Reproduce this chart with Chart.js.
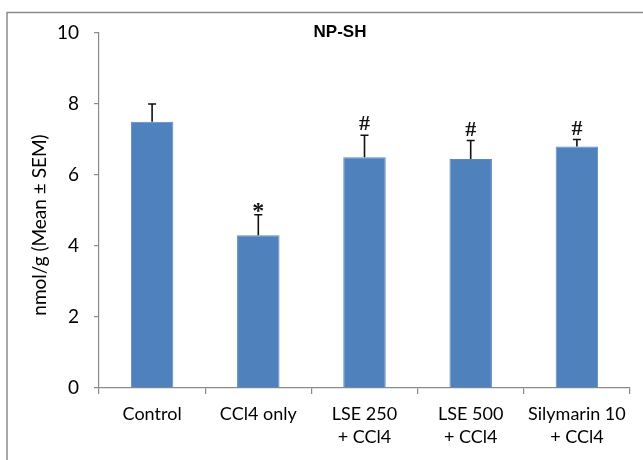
<!DOCTYPE html>
<html>
<head>
<meta charset="utf-8">
<script src="https://cdn.jsdelivr.net/npm/chart.js@4/dist/chart.umd.min.js"></script>
<style>
  html, body { margin: 0; padding: 0; background: #fff; }
  #wrap { width: 643px; height: 460px; position: relative; }
</style>
</head>
<body>
<div id="wrap"><canvas id="c" width="643" height="460"></canvas></div>
<script>
const categories = ["Control", "CCl4 only", ["LSE 250", "+ CCl4"], ["LSE 500", "+ CCl4"], ["Silymarin 10", "+ CCl4"]];
const means = [7.5, 4.3, 6.5, 6.45, 6.8];
const sems = [0.5, 0.58, 0.62, 0.52, 0.2];
const marks = ["", "*", "#", "#", "#"];
const yTicks = [0, 2, 4, 6, 8, 10];
const chartTitle = "NP-SH";
const yTitle = "nmol/g (Mean \u00B1 SEM)";

const FONT = "Lato, 'Open Sans', sans-serif";

const extras = {
  id: 'extras',
  beforeDraw(chart) {
    const ctx = chart.ctx;
    ctx.save();
    ctx.fillStyle = '#fff';
    ctx.fillRect(0, 0, chart.width, chart.height);
    ctx.strokeStyle = '#8a8a8a';
    ctx.lineWidth = 1.5;
    ctx.strokeRect(7, 12.5, chart.width + 20, chart.height + 20);
    ctx.restore();
  },
  afterDatasetsDraw(chart) {
    const ctx = chart.ctx;
    const meta = chart.getDatasetMeta(0);
    const y = chart.scales.y;
    ctx.save();
    ctx.strokeStyle = '#111';
    ctx.lineWidth = 1.6;
    meta.data.forEach((bar, i) => {
      const top = y.getPixelForValue(means[i] + sems[i]);
      const base = y.getPixelForValue(means[i]);
      ctx.beginPath();
      ctx.moveTo(bar.x, base);
      ctx.lineTo(bar.x, top);
      ctx.moveTo(bar.x - 4, top);
      ctx.lineTo(bar.x + 4, top);
      ctx.stroke();
      if (marks[i]) {
        ctx.fillStyle = '#111';
        ctx.font = (marks[i] === '*' ? 'bold 24px ' : 'bold 22px ') + "'Liberation Serif', serif";
        ctx.textAlign = 'center';
        ctx.textBaseline = 'alphabetic';
        ctx.fillText(marks[i], bar.x, top - (marks[i] === '*' ? -3 : 5));
      }
    });
    // title
    ctx.fillStyle = '#000';
    ctx.font = "bold 17px 'Liberation Sans', Arial, sans-serif";
    ctx.textAlign = 'center';
    ctx.textBaseline = 'middle';
    ctx.fillText(chartTitle, 340, 32);
    // y title
    ctx.translate(40, 225);
    ctx.rotate(-Math.PI / 2);
    ctx.font = "19px " + FONT;
    ctx.fillText(yTitle, 0, 0);
    ctx.restore();
  }
};

new Chart(document.getElementById('c'), {
  type: 'bar',
  data: {
    labels: categories,
    datasets: [{
      data: means,
      backgroundColor: '#4F81BD',
      borderColor: '#5a8ac4',
      borderWidth: 1,
      barPercentage: 0.4,
      categoryPercentage: 1.0
    }]
  },
  options: {
    responsive: false,
    animation: false,
    layout: { padding: { left: 0, right: 13, top: 33, bottom: 0 } },
    plugins: { legend: { display: false }, title: { display: false }, tooltip: { enabled: false } },
    scales: {
      x: {
        afterFit(s) { s.height = 72; },
        grid: { display: true, offset: true, drawOnChartArea: false, drawTicks: true, tickLength: 6, color: '#8a8a8a', lineWidth: 1.2 },
        border: { display: true, color: '#8a8a8a', width: 1.2 },
        ticks: { color: '#000', font: { family: FONT, size: 18, lineHeight: 1.3 }, padding: 8, maxRotation: 0, autoSkip: false }
      },
      y: {
        min: 0, max: 10,
        afterFit(s) { s.width = 99; },
        afterBuildTicks(s) { s.ticks = yTicks.map(v => ({ value: v })); },
        grid: { display: true, drawOnChartArea: false, drawTicks: true, tickLength: 5, color: '#8a8a8a', lineWidth: 1.2 },
        border: { display: true, color: '#8a8a8a', width: 1.2 },
        ticks: { color: '#000', font: { family: FONT, size: 19 }, padding: 15 }
      }
    }
  },
  plugins: [extras]
});
</script>
</body>
</html>
